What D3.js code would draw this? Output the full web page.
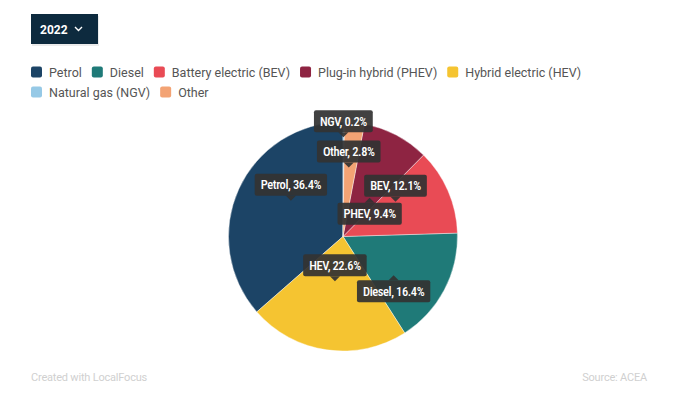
<!DOCTYPE html>
<html lang="en">
<head>
    <meta charset="UTF-8">
    <title>New car registrations by fuel type</title>
    <script src="https://d3js.org/d3.v7.min.js"></script>
    <style>
        body { margin: 0; background: #fff; }
        .legend text { font: 12.5px Roboto, sans-serif; fill: #555; }
        .tip text { font-family: "Roboto Condensed", "Liberation Sans Narrow", Roboto, sans-serif; font-weight: 500; font-size: 12.5px; letter-spacing: -0.4px; fill: #fff; }
        .footer { font: 11px Roboto, sans-serif; fill: #d0d0d0; letter-spacing: -0.2px; }
    </style>
</head>
<body>

<svg width="677" height="393"></svg>

<script>
    const width = 677;
    const height = 393;

    // Data (2022 share of new car registrations)
    const categories = ["Petrol", "Diesel", "Battery electric (BEV)", "Plug-in hybrid (PHEV)", "Hybrid electric (HEV)", "Natural gas (NGV)", "Other"];
    const shortNames = ["Petrol", "Diesel", "BEV", "PHEV", "HEV", "NGV", "Other"];
    const shares = [36.4, 16.4, 12.1, 9.4, 22.6, 0.2, 2.8];
    const colors = ["#1c4466", "#1f7a78", "#e94b55", "#8e2442", "#f5c431", "#96c9e6", "#f3a374"];

    const rows = categories.map((c, i) => ({ name: c, short: shortNames[i], value: shares[i], color: colors[i] }));

    const svg = d3.select("svg");

    // Year selector
    const sel = svg.append("g").attr("transform", "translate(31,14)");
    sel.append("rect")
        .attr("x", 1).attr("y", 2).attr("width", 67).attr("height", 30)
        .attr("fill", "#000").attr("opacity", 0.08);
    sel.append("rect")
        .attr("width", 67).attr("height", 30)
        .attr("fill", "#0d2a3e");
    sel.append("text")
        .attr("x", 9).attr("y", 19.5)
        .attr("fill", "#fff")
        .style("font", "bold 12px Roboto, sans-serif")
        .text("2022");
    sel.append("path")
        .attr("d", "M44,13 L47.5,16.5 L51,13")
        .attr("fill", "none").attr("stroke", "#fff").attr("stroke-width", 1.4);

    // Legend, flowing into rows
    const legend = svg.append("g").attr("class", "legend");
    let lx = 31, ly = 72;
    const maxX = 620;
    rows.forEach(d => {
        const g = legend.append("g");
        const t = g.append("text").attr("x", 18).attr("y", 4.5).text(d.name);
        const w = t.node().getComputedTextLength();
        if (lx + 18 + w > maxX) { lx = 31; ly += 20; }
        g.attr("transform", `translate(${lx},${ly})`);
        g.append("rect")
            .attr("x", 0).attr("y", -5.5).attr("width", 11).attr("height", 11)
            .attr("rx", 2)
            .attr("fill", d.color);
        lx += 18 + w + 10;
    });

    // Pie (largest first, running counter-clockwise from 12 o'clock)
    const cx = 343, cy = 236.5, R = 114.5;
    const pie = d3.pie().value(d => d.value).startAngle(0).endAngle(-2 * Math.PI);
    const arcs = pie(rows);
    const arc = d3.arc().innerRadius(0).outerRadius(R);

    const chart = svg.append("g").attr("transform", `translate(${cx},${cy})`);
    chart.selectAll("path")
        .data(arcs)
        .enter()
        .append("path")
        .attr("d", arc)
        .attr("fill", d => d.data.color)
        .attr("stroke", "#fff")
        .attr("stroke-width", 0.4);

    // Tooltip-style labels: above the centroid, some flipped/stacked to avoid overlap
    const labelSide = { Diesel: 1, PHEV: 1, NGV: -2 };
    const step = 28;
    const tips = chart.selectAll(".tip")
        .data(arcs)
        .enter()
        .append("g")
        .attr("class", "tip");

    tips.each(function(d) {
        const g = d3.select(this);
        const [ax, ay] = arc.centroid(d);
        const side = labelSide[d.data.short] || -1;
        const by = ay + side * step + (side === -2 ? -2 : 0);
        const t = g.append("text")
            .attr("x", ax).attr("y", by + 4.5)
            .attr("text-anchor", "middle")
            .text(`${d.data.short}, ${d.data.value}%`);
        const w = t.node().getComputedTextLength() + 12;
        const h = 22;
        g.insert("rect", "text")
            .attr("x", ax - w / 2).attr("y", by - h / 2)
            .attr("width", w).attr("height", h)
            .attr("rx", 2)
            .attr("fill", "#333").attr("opacity", 0.93);
        const dir = side > 0 ? -1 : 1;
        const py = by + dir * h / 2;
        g.insert("path", "text")
            .attr("d", `M${ax - 5},${py} L${ax},${py + dir * 5} L${ax + 5},${py} Z`)
            .attr("fill", "#333").attr("opacity", 0.93);
    });

    // Footer
    svg.append("text").attr("class", "footer")
        .attr("x", 31).attr("y", 381)
        .text("Created with LocalFocus");
    svg.append("text").attr("class", "footer")
        .attr("x", 647).attr("y", 381)
        .attr("text-anchor", "end")
        .text("Source: ACEA");
</script>

</body>
</html>
